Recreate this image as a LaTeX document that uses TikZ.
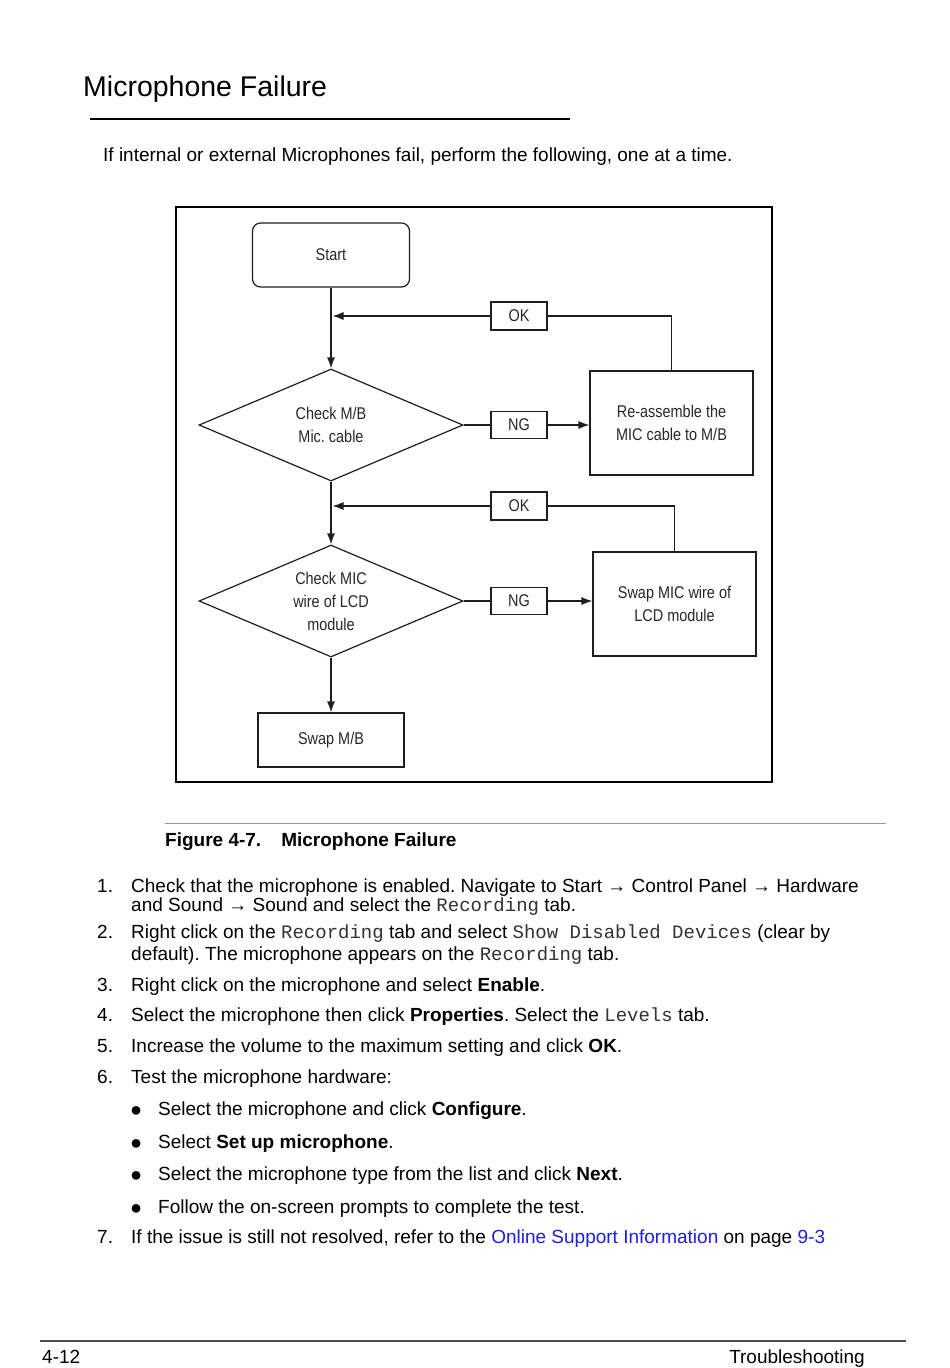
\documentclass[tikz,border=0pt]{standalone}
\usepackage{fontspec}
\setmainfont{Liberation Sans}
\setmonofont{Liberation Mono}
\newfontfamily\condfont[FakeStretch=0.85]{Liberation Sans}
\usetikzlibrary{shapes.geometric,arrows.meta}
\definecolor{linkblue}{RGB}{30,30,225}
\definecolor{dtext}{RGB}{40,40,40}
\definecolor{fline}{RGB}{30,30,30}
\definecolor{monotext}{RGB}{50,50,50}
\newcommand{\rarr}{{\fontsize{19}{19}\selectfont →}}
\newcommand{\mono}[1]{{\ttfamily\color{monotext}#1}}
\frenchspacing
\begin{document}
\frenchspacing
\begin{tikzpicture}[x=1pt,y=-1pt,
  body/.style={anchor=base west, inner sep=0pt, font=\fontsize{19}{22}\selectfont},
  bul/.style={anchor=base west, inner sep=0pt, font=\fontsize{20}{20}\selectfont},
  dtxt/.style={font=\condfont\fontsize{17}{23}\selectfont, text=dtext, align=center},
  fbox/.style={draw=fline, line width=1.2pt, dtxt, inner sep=0pt, rectangle},
  dia/.style={draw=fline, line width=1.2pt, dtxt, inner sep=0pt, diamond, aspect=2.36, minimum width=264pt, minimum height=112pt},
  tagbox/.style={fbox, minimum width=56pt, minimum height=27pt},
  ln/.style={draw=fline, line width=1.2pt},
  arr/.style={ln, -{Latex[length=11pt,width=8pt]}}
]
\useasboundingbox (0,0) rectangle (950,1368);
\fill[white] (0,0) rectangle (950,1368);

% title
\node[body, font=\fontsize{28.5}{30}\selectfont] (title) at (83,96) {Microphone Failure};
\draw[line width=2pt] (90,119) -- (570,119);
\node[body] (intro) at (103,161) {If internal or external Microphones fail, perform the following, one at a time.};

% figure frame
\draw[line width=2pt] (176,207) rectangle (772,782);

% flowchart nodes
\node[fbox, rounded corners=8pt, minimum width=157pt, minimum height=64pt] (start) at (331,255) {Start};
\node[dia] (d1) at (331,425) {Check M/B\\Mic. cable};
\node[dia] (d2) at (331,601) {Check MIC\\wire of LCD\\module};
\node[tagbox, minimum height=28pt] (ok1) at (519,316) {OK};
\node[tagbox] (ng1) at (519,425) {NG};
\node[tagbox, minimum height=28pt] (ok2) at (519,506) {OK};
\node[tagbox] (ng2) at (519,601) {NG};
\node[fbox, minimum width=163pt, minimum height=104pt] (re) at (671.5,423) {Re-assemble the\\MIC cable to M/B};
\node[fbox, minimum width=163pt, minimum height=104pt] (swap) at (674.5,604) {Swap MIC wire of\\LCD module};
\node[fbox, minimum width=146pt, minimum height=54pt] (mb) at (331,740) {Swap M/B};

% connectors
\draw[arr] (start.south) -- (d1.north);
\draw[arr, shorten >=1.5pt] (ok1.west) -- (ok1.west -| start.south);
\draw[ln] (ok1.east) -| (re.north);
\draw[ln] (d1.east) -- (ng1.west);
\draw[arr] (ng1.east) -- (ng1.east -| re.west);
\draw[arr] (d1.south) -- (d2.north);
\draw[arr, shorten >=1.5pt] (ok2.west) -- (ok2.west -| d1.south);
\draw[ln] (ok2.east) -| (swap.north);
\draw[ln] (d2.east) -- (ng2.west);
\draw[arr] (ng2.east) -- (ng2.east -| swap.west);
\draw[arr] (d2.south) -- (mb.north);

% caption
\draw[line width=0.8pt, color=black!40] (165,823) -- (886,823);
\node[body, font=\fontsize{19}{22}\bfseries\selectfont] (cap) at (165,846) {Figure 4-7.\hspace{20pt}Microphone Failure};

% list
\node[body] (n1) at (97,892) {1.};
\node[body] (l1a) at (131,892) {Check that the microphone is enabled. Navigate to Start \rarr{} Control Panel \rarr{} Hardware};
\node[body] (l1b) at (131,911) {and Sound \rarr{} Sound and select the \mono{Recording} tab.};
\node[body] (n2) at (97,938) {2.};
\node[body] (l2a) at (131,938) {Right click on the \mono{Recording} tab and select \mono{Show Disabled Devices} (clear by};
\node[body] (l2b) at (131,960) {default). The microphone appears on the \mono{Recording} tab.};
\node[body] (n3) at (97,991) {3.};
\node[body] (l3) at (131,991) {Right click on the microphone and select \textbf{Enable}.};
\node[body] (n4) at (97,1021) {4.};
\node[body] (l4) at (131,1021) {Select the microphone then click \textbf{Properties}. Select the \mono{Levels} tab.};
\node[body] (n5) at (97,1052) {5.};
\node[body] (l5) at (131,1052) {Increase the volume to the maximum setting and click \textbf{OK}.};
\node[body] (n6) at (97,1083) {6.};
\node[body] (l6) at (131,1083) {Test the microphone hardware:};
\node[bul] (b1) at (130,1116) {●};
\node[body] (l6a) at (158,1115) {Select the microphone and click \textbf{Configure}.};
\node[bul] (b2) at (130,1149) {●};
\node[body] (l6b) at (158,1148) {Select \textbf{Set up microphone}.};
\node[bul] (b3) at (130,1181) {●};
\node[body] (l6c) at (158,1180) {Select the microphone type from the list and click \textbf{Next}.};
\node[bul] (b4) at (130,1214) {●};
\node[body] (l6d) at (158,1213) {Follow the on-screen prompts to complete the test.};
\node[body] (n7) at (97,1243) {7.};
\node[body] (l7) at (131,1243) {If the issue is still not resolved, refer to the \textcolor{linkblue}{Online Support Information} on page \textcolor{linkblue}{9-3}};

% footer
\draw[line width=1.5pt, color=black!70] (40,1341) -- (906,1341);
\node[body] (pg) at (42,1363) {4-12};
\node[body, anchor=base east] (sec) at (865,1363) {Troubleshooting};
\end{tikzpicture}
\end{document}
